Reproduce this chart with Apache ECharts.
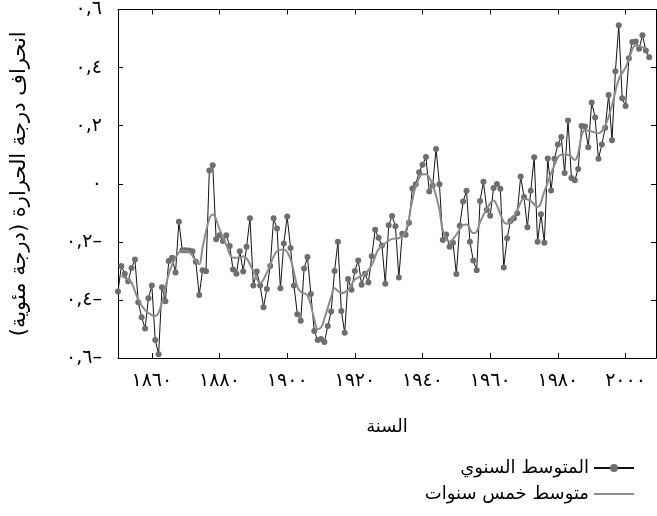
<!DOCTYPE html>
<html>
<head>
<meta charset="utf-8">
<script src="https://cdn.jsdelivr.net/npm/echarts@6/dist/echarts.min.js"></script>
<style>
html,body{margin:0;padding:0;background:#fff;}
#main{width:657px;height:516px;}
</style>
</head>
<body>
<div id="main"></div>
<script>
// annual anomaly, one value per year from startYear
var startYear = 1850;
var annual = [
	-0.371,-0.283,-0.31,-0.336,-0.290,-0.261,-0.408,-0.460,-0.498,-0.394,
	-0.350,-0.538,-0.587,-0.356,-0.405,-0.266,-0.255,-0.306,-0.131,-0.229,
	-0.229,-0.23,-0.232,-0.269,-0.383,-0.298,-0.301,0.046,0.064,-0.191,
	-0.177,-0.197,-0.177,-0.214,-0.295,-0.310,-0.232,-0.302,-0.217,-0.119,
	-0.350,-0.302,-0.350,-0.425,-0.362,-0.283,-0.119,-0.154,-0.360,-0.206,
	-0.113,-0.221,-0.350,-0.449,-0.472,-0.292,-0.252,-0.38,-0.507,-0.538,
	-0.535,-0.545,-0.49,-0.44,-0.30,-0.20,-0.438,-0.513,-0.328,-0.365,
	-0.30,-0.264,-0.348,-0.31,-0.34,-0.25,-0.158,-0.186,-0.213,-0.344,
	-0.143,-0.111,-0.146,-0.323,-0.172,-0.176,-0.134,-0.016,-0.002,0.040,
	0.065,0.092,-0.027,-0.006,0.120,-0.002,-0.194,-0.175,-0.217,-0.203,
	-0.311,-0.145,-0.061,-0.024,-0.200,-0.264,-0.298,-0.059,0.007,-0.090,
	-0.110,-0.015,-0.001,-0.017,-0.288,-0.188,-0.128,-0.119,-0.102,0.025,
	-0.046,-0.150,-0.024,0.091,-0.200,-0.105,-0.203,0.087,-0.023,0.086,
	0.135,0.161,0.037,0.218,0.020,0.012,0.051,0.199,0.197,0.126,
	0.280,0.228,0.086,0.135,0.193,0.306,0.150,0.387,0.546,0.294,
	0.268,0.432,0.488,0.490,0.465,0.511,0.459,0.436
];

// five year mean
var smoothYears = [1851,1853,1854,1856,1858,1860,1861,1863,1865,1867,1869,1871,1873,1874,1875,1877,1878,
	1880,1882,1884,1886,1887,1890,1892,1894,1897,1899,1901,1903,1904,1906,1908,1909,1910,1911,1913,1914,
	1916,1918,1920,1923,1925,1927,1929,1931,1933,1935,1937,1938,1940,1941,1943,1945,1946,1948,1950,1952,
	1953,1955,1956,1957,1959,1961,1962,1964,1965,1968,1970,1972,1974,1976,1979,1981,1983,1985,1988,1990,
	1992,1994,1996,1998,2000,2001,2003,2005,2006];
var smoothValues = [-0.317,-0.33,-0.34,-0.40,-0.435,-0.452,-0.455,-0.41,-0.31,-0.255,-0.23,-0.235,-0.265,-0.277,-0.22,-0.12,-0.106,
	-0.156,-0.21,-0.255,-0.255,-0.25,-0.30,-0.342,-0.306,-0.232,-0.226,-0.26,-0.355,-0.372,-0.385,-0.465,-0.50,-0.495,-0.465,-0.39,-0.36,
	-0.377,-0.365,-0.33,-0.31,-0.28,-0.225,-0.205,-0.19,-0.187,-0.165,-0.055,-0.01,0.033,0.033,-0.005,-0.09,-0.16,-0.20,-0.175,-0.142,
	-0.14,-0.17,-0.165,-0.132,-0.087,-0.058,-0.075,-0.132,-0.138,-0.09,-0.052,-0.06,-0.08,-0.027,0.065,0.10,0.10,0.082,0.185,0.18,
	0.174,0.20,0.27,0.36,0.40,0.43,0.476,0.47,0.465];

var xTicks = [1860,1880,1900,1920,1940,1960,1980,2000];
var seriesNames = ['المتوسط السنوي','متوسط خمس سنوات'];

var arDigits = ['٠','١','٢','٣','٤','٥','٦','٧','٨','٩'];
function toAr(s){
	return String(s).replace(/[0-9]/g,function(d){ return arDigits[+d]; });
}
function yLabel(v){
	if(Math.abs(v) < 1e-9) return '٠';
	var s = toAr(Math.abs(v).toFixed(1)).replace('.',',');
	return v < 0 ? s + '–' : s;
}

var annualData = [];
for(var i=0;i<annual.length;i++){
	annualData.push([startYear+i, annual[i]]);
}
var smoothData = [];
for(var j=0;j<smoothYears.length;j++){
	smoothData.push([smoothYears[j], smoothValues[j]]);
}

var font = 'DejaVu Sans';
var boxLine = {onZero:false,lineStyle:{color:'#000',width:1}};
var myChart = echarts.init(document.getElementById('main'));
myChart.setOption({
	animation:false,
	textStyle:{fontFamily:font},
	grid:{left:118,top:8,right:1,bottom:158},
	legend:{
		orient:'vertical',
		right:17,
		top:454,
		align:'right',
		itemWidth:40,
		itemHeight:10,
		itemGap:8,
		textStyle:{fontFamily:font,fontSize:18,color:'#000'},
		data:[
			{name:seriesNames[0]},
			{name:seriesNames[1],itemStyle:{opacity:0}}
		]
	},
	xAxis:[{
		type:'value',
		min:1850,
		max:2009,
		name:'السنة',
		nameLocation:'middle',
		nameGap:60,
		nameTextStyle:{fontFamily:font,fontSize:18,color:'#000'},
		axisLine:boxLine,
		axisTick:{inside:true,length:5,customValues:xTicks,lineStyle:{color:'#000'}},
		axisLabel:{customValues:xTicks,formatter:function(v){return toAr(v);},fontFamily:font,fontSize:19,color:'#000',margin:14},
		splitLine:{show:false}
	},{
		type:'value',
		position:'top',
		min:1850,
		max:2009,
		axisLine:boxLine,
		axisTick:{inside:true,length:5,customValues:xTicks,lineStyle:{color:'#000'}},
		axisLabel:{show:false},
		splitLine:{show:false}
	}],
	yAxis:[{
		type:'value',
		min:-0.6,
		max:0.6,
		interval:0.2,
		name:'انحراف درجة الحرارة (درجة مئوية)\u200F',
		nameLocation:'middle',
		nameRotate:90,
		nameGap:88,
		nameTextStyle:{fontFamily:font,fontSize:21,color:'#000'},
		axisLine:{show:true,onZero:false,lineStyle:{color:'#000',width:1}},
		axisTick:{show:true,inside:true,length:5,lineStyle:{color:'#000'}},
		axisLabel:{formatter:yLabel,fontFamily:font,fontSize:19,color:'#000',margin:16},
		splitLine:{show:false}
	},{
		type:'value',
		position:'right',
		min:-0.6,
		max:0.6,
		interval:0.2,
		axisLine:{show:true,onZero:false,lineStyle:{color:'#000',width:1}},
		axisTick:{show:true,inside:true,length:5,lineStyle:{color:'#000'}},
		axisLabel:{show:false},
		splitLine:{show:false}
	}],
	series:[{
		name:seriesNames[0],
		type:'line',
		data:annualData,
		symbol:'circle',
		symbolSize:6,
		itemStyle:{color:'#6e6e6e'},
		lineStyle:{color:'#111',width:1},
		z:2
	},{
		name:seriesNames[1],
		type:'line',
		data:smoothData,
		smooth:0.4,
		symbol:'none',
		itemStyle:{color:'#8c8c8c'},
		lineStyle:{color:'#8c8c8c',width:2},
		z:3
	}]
});
</script>
</body>
</html>
